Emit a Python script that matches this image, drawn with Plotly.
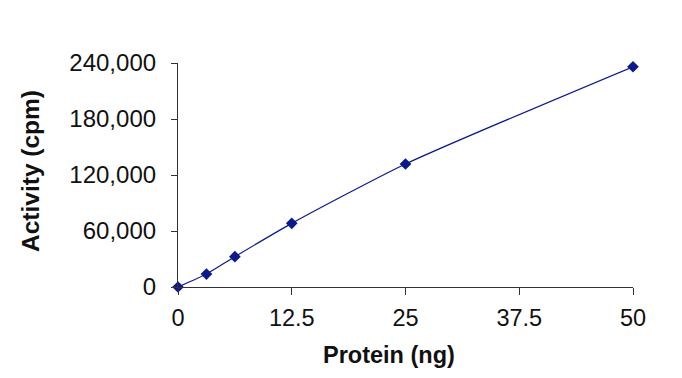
import plotly.graph_objects as go

protein_ng = [0, 3.125, 6.25, 12.5, 25, 50]
activity_cpm = [0, 13900, 32500, 68200, 131800, 236000]
x_ticks = [0, 12.5, 25, 37.5, 50]
x_tick_labels = ["0", "12.5", "25", "37.5", "50"]
y_ticks = [0, 60000, 120000, 180000, 240000]
y_tick_labels = ["0", "60,000", "120,000", "180,000", "240,000"]

navy = "#0a1a8c"
font = "Liberation Sans, Arial, sans-serif"

# page body has an 8px default margin; compensate
OFF = 8
L, R, T, B = 178 - OFF, 49, 63 - OFF, 91
W, H = 682 - OFF, 378 - OFF
pw, ph = W - L - R, H - T - B

def px_x(x):
    return (x - OFF - L) / pw

def px_y(y):
    return (H - B - (y - OFF)) / ph

fig = go.Figure()
fig.add_trace(go.Scatter(
    x=protein_ng, y=activity_cpm, mode="lines+markers",
    line=dict(color=navy, width=1.2, shape="spline", smoothing=0.6),
    marker=dict(symbol="diamond", size=9, color=navy),
    cliponaxis=False, showlegend=False,
))

fig.update_layout(
    width=W, height=H,
    margin=dict(l=L, r=R, t=T, b=B, autoexpand=False),
    paper_bgcolor="white", plot_bgcolor="white",
    font=dict(family=font, size=24, color="#111111"),
    xaxis=dict(range=[0, 50], tickvals=x_ticks, ticktext=x_tick_labels,
               showline=True, linecolor="#333333", linewidth=1.2,
               ticks="outside", ticklen=7, tickcolor="#333333",
               showgrid=False, zeroline=False, ticklabelstandoff=3,
               tickfont=dict(size=23.5)),
    yaxis=dict(range=[0, 240000], tickvals=y_ticks, ticktext=y_tick_labels,
               showline=True, linecolor="#333333", linewidth=1.2,
               ticks="outside", ticklen=6, tickcolor="#333333",
               showgrid=False, zeroline=False, ticklabelstandoff=10,
               tickfont=dict(size=24)),
    annotations=[
        dict(text="<b>Protein (ng)</b>", x=px_x(389), y=px_y(355),
             xref="paper", yref="paper", xanchor="center", yanchor="middle",
             showarrow=False, font=dict(size=23.5, family=font, color="#111111")),
        dict(text="<b>Activity (cpm)</b>", x=px_x(30), y=px_y(171),
             xref="paper", yref="paper", xanchor="center", yanchor="middle",
             textangle=-90, showarrow=False, font=dict(size=24.5, family=font, color="#111111")),
    ],
)
fig.write_html("out.html")
